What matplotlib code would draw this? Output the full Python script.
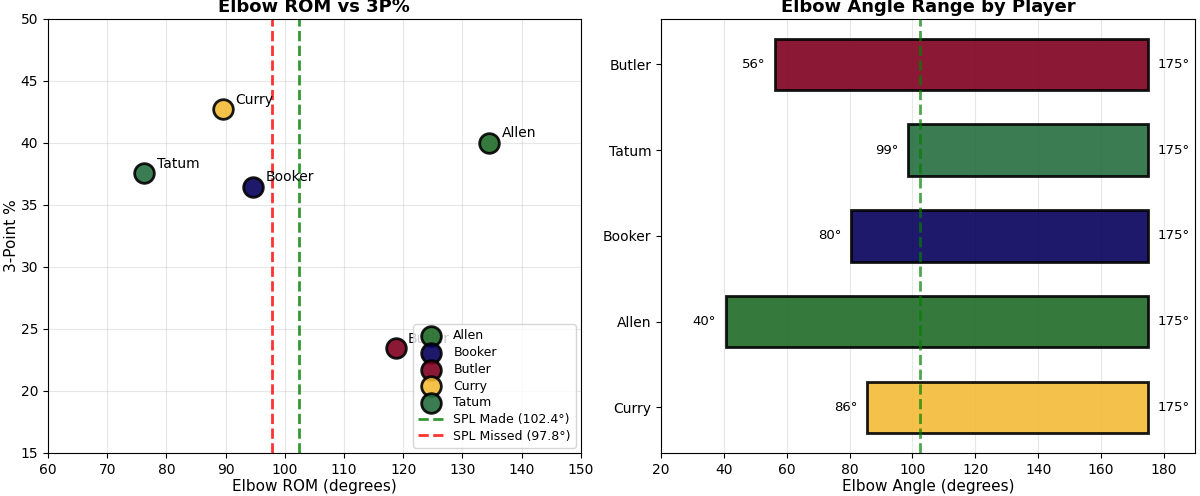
import matplotlib.pyplot as plt
import numpy as np

# per-player data (alphabetical order for scatter / legend)
PLAYERS = ["Allen", "Booker", "Butler", "Curry", "Tatum"]
MIN_ANGLE = [40.5, 80.3, 56.3, 85.5, 98.7]
MAX_ANGLE = [175.0, 175.0, 175.0, 175.0, 175.0]
THREE_PT = [40.0, 36.45, 23.45, 42.7, 37.55]
COLORS = ["#1f6b27", "#05005a", "#7f0020", "#f3bb37", "#256e3f"]

# order of the bars, bottom to top
BAR_ORDER = ["Curry", "Allen", "Booker", "Tatum", "Butler"]

SPL_MADE = 102.4
SPL_MISSED = 97.8


def scatter_panel(ax):
    rom = np.array(MAX_ANGLE) - np.array(MIN_ANGLE)
    for name, x, y, c in zip(PLAYERS, rom, THREE_PT, COLORS):
        ax.scatter(x, y, s=200, color=c, alpha=0.9, edgecolor='black',
                   linewidth=2, label=name, zorder=3)
        ax.annotate(name, (x, y), xytext=(9, 4), textcoords='offset points',
                    fontsize=10)

    ax.axvline(SPL_MADE, color='green', linestyle='--', linewidth=2,
               alpha=0.8, label=f'SPL Made ({SPL_MADE}°)')
    ax.axvline(SPL_MISSED, color='red', linestyle='--', linewidth=2,
               alpha=0.8, label=f'SPL Missed ({SPL_MISSED}°)')

    ax.set_xlim(60, 150)
    ax.set_ylim(15, 50)
    ax.set_xlabel('Elbow ROM (degrees)', fontsize=11, labelpad=2)
    ax.set_ylabel('3-Point %', fontsize=11, labelpad=1)
    ax.set_title('Elbow ROM vs 3P%', fontsize=13, fontweight='bold', pad=5)
    ax.grid(True, alpha=0.3)
    ax.legend(loc='lower right', fontsize=9, labelspacing=0.3,
              borderaxespad=0.4)


def range_panel(ax):
    idx = [PLAYERS.index(p) for p in BAR_ORDER]
    lo = np.array([MIN_ANGLE[i] for i in idx])
    hi = np.array([MAX_ANGLE[i] for i in idx])
    cols = [COLORS[i] for i in idx]
    y = np.arange(len(BAR_ORDER))

    ax.barh(y, hi - lo, left=lo, height=0.6, color=cols, alpha=0.9,
            edgecolor='black', linewidth=2, zorder=2)
    for yi, a, b in zip(y, lo, hi):
        ax.text(a - 3, yi, f'{a:.0f}°', ha='right', va='center', fontsize=9.5)
        ax.text(b + 3, yi, f'{b:.0f}°', ha='left', va='center', fontsize=9.5)

    ax.axvline(SPL_MADE, color='green', linestyle='--', linewidth=2,
               alpha=0.7, zorder=3)
    ax.set_yticks(y)
    ax.set_yticklabels(BAR_ORDER, fontsize=10)
    ax.set_xlim(20, 190)
    ax.set_xlabel('Elbow Angle (degrees)', fontsize=11, labelpad=2)
    ax.set_title('Elbow Angle Range by Player', fontsize=13,
                 fontweight='bold', pad=5)
    ax.grid(True, axis='x', alpha=0.3, zorder=0)
    ax.set_axisbelow(True)


fig = plt.figure(figsize=(12, 4.96), dpi=100)
ax1 = fig.add_axes([0.040, 0.087, 0.444, 0.875])
ax2 = fig.add_axes([0.551, 0.087, 0.445, 0.875])
scatter_panel(ax1)
range_panel(ax2)
fig.savefig('out.png', dpi=100)
